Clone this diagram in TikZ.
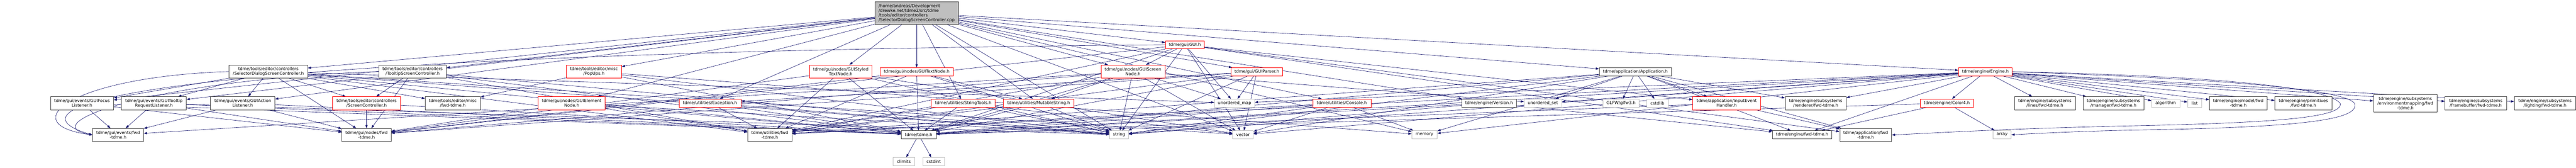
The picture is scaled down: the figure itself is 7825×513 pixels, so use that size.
\documentclass[tikz,border=0pt]{standalone}
\usepackage{fontspec}
\setmainfont{DejaVu Sans}
\usetikzlibrary{arrows.meta}
\definecolor{edgeblue}{HTML}{191970}
\definecolor{boxgray}{HTML}{404040}
\definecolor{leafgray}{HTML}{BFBFBF}
\definecolor{boxred}{HTML}{FF0000}
\newcommand{\graphfont}{\fontsize{12.9}{14}\selectfont}
\pgfdeclarelayer{background}
\pgfsetlayers{background,main}
\begin{document}
\begin{tikzpicture}[x=1pt, y=-1pt,
    nodeStyle/.style={draw=boxgray, fill=white, line width=1pt, inner sep=0pt, align=center, font=\graphfont},
    redStyle/.style={nodeStyle, draw=boxred},
    leafStyle/.style={nodeStyle, draw=leafgray},
    rootStyle/.style={nodeStyle, fill=leafgray, align=left},
    oneLine/.style={minimum height=25pt},
    twoLine/.style={minimum height=40pt},
    edgeStyle/.style={draw=edgeblue, line width=1pt, -{Triangle[length=10pt,width=7pt]}}]
    \node[rootStyle, minimum width=255pt, minimum height=69pt](root) at (2745.5, 40.5) {/home/andreas/Development\\/drewke.net/tdme2/src/tdme\\/tools/editor/controllers\\/SelectorDialogScreenController.cpp};
    \node[redStyle, oneLine, minimum width=119pt](gui) at (3566.5, 137) {tdme/gui/GUI.h};

    \node[nodeStyle, twoLine, minimum width=240pt](sdsc) at (761, 219) {tdme/tools/editor/controllers\\/SelectorDialogScreenController.h};
    \node[nodeStyle, twoLine, minimum width=207pt](tsc) at (1202.5, 219) {tdme/tools/editor/controllers\\/TooltipScreenController.h};
    \node[redStyle, twoLine, minimum width=169pt](popups) at (1757.5, 219) {tdme/tools/editor/misc\\/PopUps.h};
    \node[redStyle, twoLine, minimum width=192pt](styled) at (2513, 219) {tdme/gui/nodes/GUIStyled\\TextNode.h};
    \node[redStyle, oneLine, minimum width=225pt](textnode) at (2745.5, 219.5) {tdme/gui/nodes/GUITextNode.h};
    \node[redStyle, twoLine, minimum width=195pt](screennode) at (3407.5, 219) {tdme/gui/nodes/GUIScreen\\Node.h};
    \node[redStyle, oneLine, minimum width=158pt](parser) at (3787, 219.5) {tdme/gui/GUIParser.h};
    \node[nodeStyle, oneLine, minimum width=221pt](app) at (4945.5, 219.5) {tdme/application/Application.h};
    \node[redStyle, oneLine, minimum width=164pt](engine) at (6017, 219.5) {tdme/engine/Engine.h};

    \node[nodeStyle, twoLine, minimum width=193pt](focus) at (190.5, 316) {tdme/gui/events/GUIFocus\\Listener.h};
    \node[nodeStyle, twoLine, minimum width=199pt](tooltipreq) at (410.5, 316) {tdme/gui/events/GUITooltip\\RequestListener.h};
    \node[nodeStyle, twoLine, minimum width=197pt](action) at (682.5, 316) {tdme/gui/events/GUIAction\\Listener.h};
    \node[redStyle, twoLine, minimum width=207pt](screenctl) at (1061.5, 316) {tdme/tools/editor/controllers\\/ScreenController.h};
    \node[nodeStyle, twoLine, minimum width=169pt](miscfwd) at (1325.5, 316) {tdme/tools/editor/misc\\/fwd-tdme.h};
    \node[redStyle, twoLine, minimum width=205pt](element) at (1689.5, 316) {tdme/gui/nodes/GUIElement\\Node.h};
    \node[redStyle, oneLine, minimum width=190pt](exception) at (2113, 315.5) {tdme/utilities/Exception.h};
    \node[redStyle, oneLine, minimum width=196pt](stringtools) at (2888, 315.5) {tdme/utilities/StringTools.h};
    \node[redStyle, oneLine, minimum width=216pt](mutable) at (3119, 315.5) {tdme/utilities/MutableString.h};
    \node[leafStyle, oneLine, minimum width=123pt](umap) at (3718.5, 315.5) {unordered\_map};
    \node[redStyle, oneLine, minimum width=178pt](console) at (4047, 315.5) {tdme/utilities/Console.h};
    \node[nodeStyle, oneLine, minimum width=167pt](version) at (4497.5, 315.5) {tdme/engine/Version.h};
    \node[leafStyle, oneLine, minimum width=115pt](uset) at (4662.5, 315.5) {unordered\_set};
    \node[leafStyle, oneLine, minimum width=111pt](glfw) at (4901.5, 315.5) {GLFW/glfw3.h};
    \node[leafStyle, oneLine, minimum width=66pt](cstdlib) at (5013, 315.5) {cstdlib};
    \node[redStyle, twoLine, minimum width=208pt](input) at (5225, 316) {tdme/application/InputEvent\\Handler.h};
    \node[nodeStyle, twoLine, minimum width=187pt](rendererfwd) at (5497.5, 316) {tdme/engine/subsystems\\/renderer/fwd-tdme.h};
    \node[redStyle, oneLine, minimum width=164pt](color) at (5899, 315.5) {tdme/engine/Color4.h};
    \node[nodeStyle, twoLine, minimum width=186pt](linesfwd) at (6199, 316) {tdme/engine/subsystems\\/lines/fwd-tdme.h};
    \node[nodeStyle, twoLine, minimum width=186pt](managerfwd) at (6409, 316) {tdme/engine/subsystems\\/manager/fwd-tdme.h};
    \node[leafStyle, oneLine, minimum width=86pt](algorithm) at (6569, 315.5) {algorithm};
    \node[leafStyle, oneLine, minimum width=43pt](list) at (6657.5, 315.5) {list};
    \node[nodeStyle, twoLine, minimum width=176pt](modelfwd) at (6791, 316) {tdme/engine/model/fwd\\-tdme.h};
    \node[nodeStyle, twoLine, minimum width=175pt](primitivesfwd) at (6990.5, 316) {tdme/engine/primitives\\/fwd-tdme.h};
    \node[nodeStyle, minimum height=54pt, minimum width=195pt](envfwd) at (7302.5, 316) {tdme/engine/subsystems\\/environmentmapping/fwd\\-tdme.h};
    \node[nodeStyle, twoLine, minimum width=188pt](fbfwd) at (7518, 316) {tdme/engine/subsystems\\/framebuffer/fwd-tdme.h};
    \node[nodeStyle, twoLine, minimum width=188pt](lightingfwd) at (7730, 316) {tdme/engine/subsystems\\/lighting/fwd-tdme.h};

    \node[nodeStyle, twoLine, minimum width=156pt](eventsfwd) at (301, 413) {tdme/gui/events/fwd\\-tdme.h};
    \node[nodeStyle, twoLine, minimum width=151pt](nodesfwd) at (1061.5, 413) {tdme/gui/nodes/fwd\\-tdme.h};
    \node[nodeStyle, twoLine, minimum width=136pt](utilfwd) at (2296, 413) {tdme/utilities/fwd\\-tdme.h};
    \node[nodeStyle, oneLine, minimum width=107pt](tdmeh) at (2751.5, 412.5) {tdme/tdme.h};
    \node[leafStyle, oneLine, minimum width=58pt](string) at (3365, 412.5) {string};
    \node[leafStyle, oneLine, minimum width=63pt](vector) at (3744.5, 412.5) {vector};
    \node[leafStyle, oneLine, minimum width=78pt](memory) at (4300, 412.5) {memory};
    \node[nodeStyle, oneLine, minimum width=182pt](enginefwd) at (5456, 412.5) {tdme/engine/fwd-tdme.h};
    \node[nodeStyle, twoLine, minimum width=159pt](appfwd) at (5650.5, 413) {tdme/application/fwd\\-tdme.h};
    \node[leafStyle, oneLine, minimum width=56pt](array) at (6068, 412.5) {array};

    \node[leafStyle, oneLine, minimum width=67pt](climits) at (2706.5, 494.5) {climits};
    \node[leafStyle, oneLine, minimum width=67pt](cstdint) at (2797.5, 494.5) {cstdint};

    \begin{pgfonlayer}{background}
    \fill[white] (0, 0) rectangle (7825, 513);

    \draw[edgeStyle] (root) -- (sdsc);
    \draw[edgeStyle] (root) -- (tsc);
    \draw[edgeStyle] (root) -- (popups);
    \draw[edgeStyle] (root) -- (focus);
    \draw[edgeStyle] (root) -- (tooltipreq);
    \draw[edgeStyle] (root) -- (action);
    \draw[edgeStyle] (root) -- (element);
    \draw[edgeStyle] (root) -- (styled);
    \draw[edgeStyle] (root) -- (textnode);
    \draw[edgeStyle] (root) -- (screennode);
    \draw[edgeStyle] (root) -- (gui);
    \draw[edgeStyle] (root) -- (parser);
    \draw[edgeStyle] (root) -- (exception);
    \draw[edgeStyle] (root) -- (stringtools);
    \draw[edgeStyle] (root) -- (mutable);
    \draw[edgeStyle] (root) -- (console);
    \draw[edgeStyle] (root) -- (app);
    \draw[edgeStyle] (root) -- (engine);
    \draw[edgeStyle] (root) -- (version);
    \draw[edgeStyle] (root) -- (string);
    \draw[edgeStyle] (root) -- (vector);
    \draw[edgeStyle] (root) -- (memory);

    \draw[edgeStyle] (sdsc) -- (focus);
    \draw[edgeStyle] (sdsc) -- (tooltipreq);
    \draw[edgeStyle] (sdsc) -- (action);
    \draw[edgeStyle] (sdsc.west) .. controls (150, 235) and (-20, 380) .. (eventsfwd.west);
    \draw[edgeStyle] (sdsc) -- (nodesfwd);
    \draw[edgeStyle] (sdsc) -- (screenctl);
    \draw[edgeStyle] (sdsc) -- (miscfwd);
    \draw[edgeStyle] (sdsc) -- (utilfwd);
    \draw[edgeStyle] (sdsc) -- (tdmeh);
    \draw[edgeStyle] (sdsc) -- (string);
    \draw[edgeStyle] (sdsc) -- (vector);
    \draw[edgeStyle] (sdsc) -- (umap);

    \draw[edgeStyle] (tsc) -- (screenctl);
    \draw[edgeStyle] (tsc) -- (nodesfwd);
    \draw[edgeStyle] (tsc.west) .. controls (400, 245) and (40, 380) .. (eventsfwd.west);
    \draw[edgeStyle] (tsc) -- (tdmeh);
    \draw[edgeStyle] (tsc) -- (string);
    \draw[edgeStyle] (tsc) -- (utilfwd);

    \draw[edgeStyle] (popups) -- (miscfwd);
    \draw[edgeStyle] (popups) -- (tdmeh);
    \draw[edgeStyle] (popups) -- (string);
    \draw[edgeStyle] (popups) -- (memory);

    \draw[edgeStyle] (screenctl) -- (nodesfwd);
    \draw[edgeStyle] (screenctl) -- (tdmeh);

    \draw[edgeStyle] (focus) -- (eventsfwd);
    \draw[edgeStyle] (focus) -- (nodesfwd);
    \draw[edgeStyle] (focus) -- (tdmeh);
    \draw[edgeStyle] (tooltipreq) -- (eventsfwd);
    \draw[edgeStyle] (tooltipreq) -- (nodesfwd);
    \draw[edgeStyle] (tooltipreq) -- (tdmeh);
    \draw[edgeStyle] (tooltipreq) -- (string);
    \draw[edgeStyle] (action) -- (eventsfwd);
    \draw[edgeStyle] (action) -- (nodesfwd);
    \draw[edgeStyle] (action) -- (tdmeh);

    \draw[edgeStyle] (element) -- (nodesfwd);
    \draw[edgeStyle] (element) -- (tdmeh);
    \draw[edgeStyle] (element) -- (string);
    \draw[edgeStyle] (element) -- (utilfwd);

    \draw[edgeStyle] (styled) -- (nodesfwd);
    \draw[edgeStyle] (styled) -- (tdmeh);
    \draw[edgeStyle] (styled) -- (string);
    \draw[edgeStyle] (styled) -- (vector);
    \draw[edgeStyle] (styled) -- (utilfwd);

    \draw[edgeStyle] (textnode) -- (nodesfwd);
    \draw[edgeStyle] (textnode) -- (utilfwd);
    \draw[edgeStyle] (textnode) -- (tdmeh);
    \draw[edgeStyle] (textnode) -- (mutable);
    \draw[edgeStyle] (textnode) -- (string);

    \draw[edgeStyle] (exception) -- (utilfwd);
    \draw[edgeStyle] (exception) -- (tdmeh);
    \draw[edgeStyle] (exception) -- (string);

    \draw[edgeStyle] (stringtools) -- (tdmeh);
    \draw[edgeStyle] (stringtools) -- (utilfwd);
    \draw[edgeStyle] (stringtools) -- (string);
    \draw[edgeStyle] (stringtools) -- (vector);

    \draw[edgeStyle] (mutable) -- (tdmeh);
    \draw[edgeStyle] (mutable) -- (utilfwd);
    \draw[edgeStyle] (mutable) -- (string);

    \draw[edgeStyle] (screennode) -- (nodesfwd);
    \draw[edgeStyle] (screennode) -- (eventsfwd);
    \draw[edgeStyle] (screennode) -- (mutable);
    \draw[edgeStyle] (screennode) -- (tdmeh);
    \draw[edgeStyle] (screennode) -- (string);
    \draw[edgeStyle] (screennode) -- (vector);
    \draw[edgeStyle] (screennode) -- (umap);
    \draw[edgeStyle] (screennode) -- (uset);
    \draw[edgeStyle] (screennode) -- (utilfwd);

    \draw[edgeStyle] (gui) -- (screennode);
    \draw[edgeStyle] (gui) -- (string);
    \draw[edgeStyle] (gui) -- (umap);
    \draw[edgeStyle] (gui) -- (vector);
    \draw[edgeStyle] (gui) -- (tdmeh);
    \draw[edgeStyle] (gui) -- (nodesfwd);
    \draw[edgeStyle] (gui.west) .. controls (300, 165) and (-60, 330) .. (eventsfwd.west);
    \draw[edgeStyle] (gui) -- (utilfwd);
    \draw[edgeStyle] (gui) -- (enginefwd);
    \draw[edgeStyle] (gui) -- (appfwd);
    \draw[edgeStyle] (gui) -- (input);

    \draw[edgeStyle] (parser) -- (umap);
    \draw[edgeStyle] (parser) -- (string);
    \draw[edgeStyle] (parser) -- (vector);
    \draw[edgeStyle] (parser) -- (tdmeh);
    \draw[edgeStyle] (parser) -- (exception);
    \draw[edgeStyle] (parser) -- (nodesfwd);
    \draw[edgeStyle] (parser) -- (utilfwd);

    \draw[edgeStyle] (console) -- (tdmeh);
    \draw[edgeStyle] (console) -- (utilfwd);
    \draw[edgeStyle] (console) -- (string);
    \draw[edgeStyle] (console) -- (vector);
    \draw[edgeStyle] (console) -- (memory);

    \draw[edgeStyle] (version) -- (tdmeh);
    \draw[edgeStyle] (version) -- (string);
    \draw[edgeStyle] (version) -- (enginefwd);

    \draw[edgeStyle] (app) -- (uset);
    \draw[edgeStyle] (app) -- (glfw);
    \draw[edgeStyle] (app) -- (cstdlib);
    \draw[edgeStyle] (app) -- (string);
    \draw[edgeStyle] (app) -- (vector);
    \draw[edgeStyle] (app) -- (memory);
    \draw[edgeStyle] (app) -- (tdmeh);
    \draw[edgeStyle] (app) -- (appfwd);
    \draw[edgeStyle] (app) -- (input);
    \draw[edgeStyle] (app) -- (enginefwd);
    \draw[edgeStyle] (app) -- (rendererfwd);
    \draw[edgeStyle] (app) -- (utilfwd);

    \draw[edgeStyle] (input) -- (appfwd);
    \draw[edgeStyle] (input) -- (tdmeh);

    \draw[edgeStyle] (engine) -- (color);
    \draw[edgeStyle] (engine.east) .. controls (6700, 240) and (7110, 270) .. (7147, 316) .. controls (7165, 365) and (7000, 390) .. (6470, 398) .. controls (6300, 402) and (6200, 407) .. (array.east);
    \draw[edgeStyle] (engine) -- (linesfwd);
    \draw[edgeStyle] (engine) -- (managerfwd);
    \draw[edgeStyle] (engine) -- (algorithm);
    \draw[edgeStyle] (engine) -- (list);
    \draw[edgeStyle] (engine) -- (modelfwd);
    \draw[edgeStyle] (engine) -- (primitivesfwd);
    \draw[edgeStyle] (engine) -- (envfwd);
    \draw[edgeStyle] (engine) -- (fbfwd);
    \draw[edgeStyle] (engine) -- (lightingfwd);
    \draw[edgeStyle] (engine) -- (rendererfwd);
    \draw[edgeStyle] (engine) -- (enginefwd);
    \draw[edgeStyle] (engine.east) .. controls (6700, 232) and (7060, 265) .. (7103, 316) .. controls (7115, 360) and (6900, 376) .. (6470, 385) .. controls (6100, 393) and (5900, 405) .. (appfwd.east);
    \draw[edgeStyle] (engine) -- (string);
    \draw[edgeStyle] (engine) -- (vector);
    \draw[edgeStyle] (engine) -- (umap);
    \draw[edgeStyle] (engine) -- (uset);
    \draw[edgeStyle] (engine) -- (memory);
    \draw[edgeStyle] (engine) -- (tdmeh);
    \draw[edgeStyle] (engine) -- (utilfwd);

    \draw[edgeStyle] (color) -- (array);
    \draw[edgeStyle] (color) -- (tdmeh);
    \draw[edgeStyle] (color) -- (enginefwd);

    \draw[edgeStyle] (tdmeh) -- (climits);
    \draw[edgeStyle] (tdmeh) -- (cstdint);
    \end{pgfonlayer}
\end{tikzpicture}
\end{document}
